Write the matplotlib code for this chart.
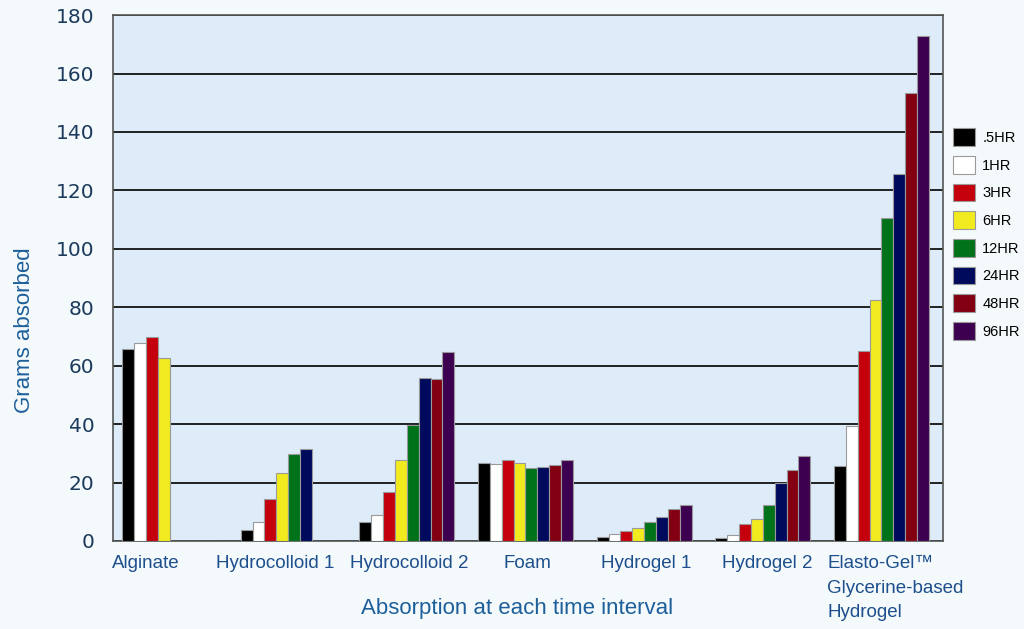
import numpy as np
import matplotlib
matplotlib.use('Agg')
import matplotlib.pyplot as plt

categories = ['Alginate', 'Hydrocolloid 1', 'Hydrocolloid 2', 'Foam',
              'Hydrogel 1', 'Hydrogel 2',
              'Elasto-Gel\u2122\nGlycerine-based\nHydrogel']
intervals = ['.5HR', '1HR', '3HR', '6HR', '12HR', '24HR', '48HR', '96HR']

# grams absorbed per interval, one list per product (0 = not measured)
alginate = [65.7, 67.8, 69.8, 62.6, 0, 0, 0, 0]
hydrocolloid1 = [3.8, 6.5, 14.4, 23.3, 29.8, 31.5, 0, 0]
hydrocolloid2 = [6.5, 8.9, 16.8, 27.7, 39.7, 55.8, 55.4, 64.7]
foam = [26.7, 26.4, 27.7, 26.7, 25.0, 25.3, 26.0, 27.7]
hydrogel1 = [1.4, 2.4, 3.4, 4.4, 6.5, 8.2, 11.0, 12.3]
hydrogel2 = [1.0, 2.0, 5.8, 7.5, 12.3, 19.8, 24.3, 29.0]
elastogel = [25.8, 39.2, 64.9, 82.6, 110.6, 125.6, 153.2, 173.0]

yticks = [0, 20, 40, 60, 80, 100, 120, 140, 160, 180]

data = np.array([alginate, hydrocolloid1, hydrocolloid2, foam,
                 hydrogel1, hydrogel2, elastogel])
colors = ['#000000', '#ffffff', '#c4000d', '#f0ea1e', '#00721a',
          '#000a5c', '#820012', '#3d0050']

fig = plt.figure(figsize=(10.24, 6.29), dpi=100, facecolor='#f4f9fc')
ax = fig.add_axes([0.110, 0.140, 0.811, 0.836])
ax.set_facecolor('#deebf9')

x = np.arange(len(categories))
w = 0.1
for i in range(len(intervals)):
    vals = data[:, i]
    ax.bar(x - 0.37 + i * w, vals, width=w, color=colors[i],
           edgecolor='#9a9a9a', linewidth=0.8, label=intervals[i], zorder=3)

ax.set_xlim(-0.5, len(categories) - 0.5)
ax.set_ylim(0, 180)
ax.set_yticks(yticks)
ax.yaxis.grid(True, color='#111111', linewidth=1.3, zorder=1)
ax.tick_params(axis='y', length=0, pad=13, labelsize=14.5, labelcolor='#1b3a5c')
ax.tick_params(axis='x', length=0, pad=10)
# label positions are shifted a bit from the group centres, as in the original
label_pos = [-0.22, 0.87, 2.0, 3.0, 4.0, 5.02, 6.1]
ax.set_xticks(label_pos)
ax.set_xticklabels(categories, fontsize=13.5, color='#1d4f8c',
                   family='Liberation Sans', va='top', multialignment='left',
                   linespacing=1.6)
for s in ax.spines.values():
    s.set_color('#555555')
    s.set_linewidth(1.2)

ax.set_ylabel('Grams absorbed', fontsize=16, color='#1d5f9a',
              family='Liberation Sans')
ax.yaxis.set_label_coords(-0.094, 0.40)
ax.set_xlabel('Absorption at each time interval', fontsize=16,
              color='#1d5f9a', family='Liberation Sans')
ax.xaxis.set_label_coords(0.487, -0.108)

leg = ax.legend(loc='upper left', bbox_to_anchor=(1.012, 0.785), frameon=False,
                borderaxespad=0, borderpad=0,
                handlelength=1.5, handleheight=1.5, labelspacing=0.68,
                handletextpad=0.5,
                prop={'family': ['Liberation Sans Narrow', 'Liberation Sans'],
                      'size': 10.5})

fig.savefig('out.png', dpi=100, facecolor=fig.get_facecolor())
